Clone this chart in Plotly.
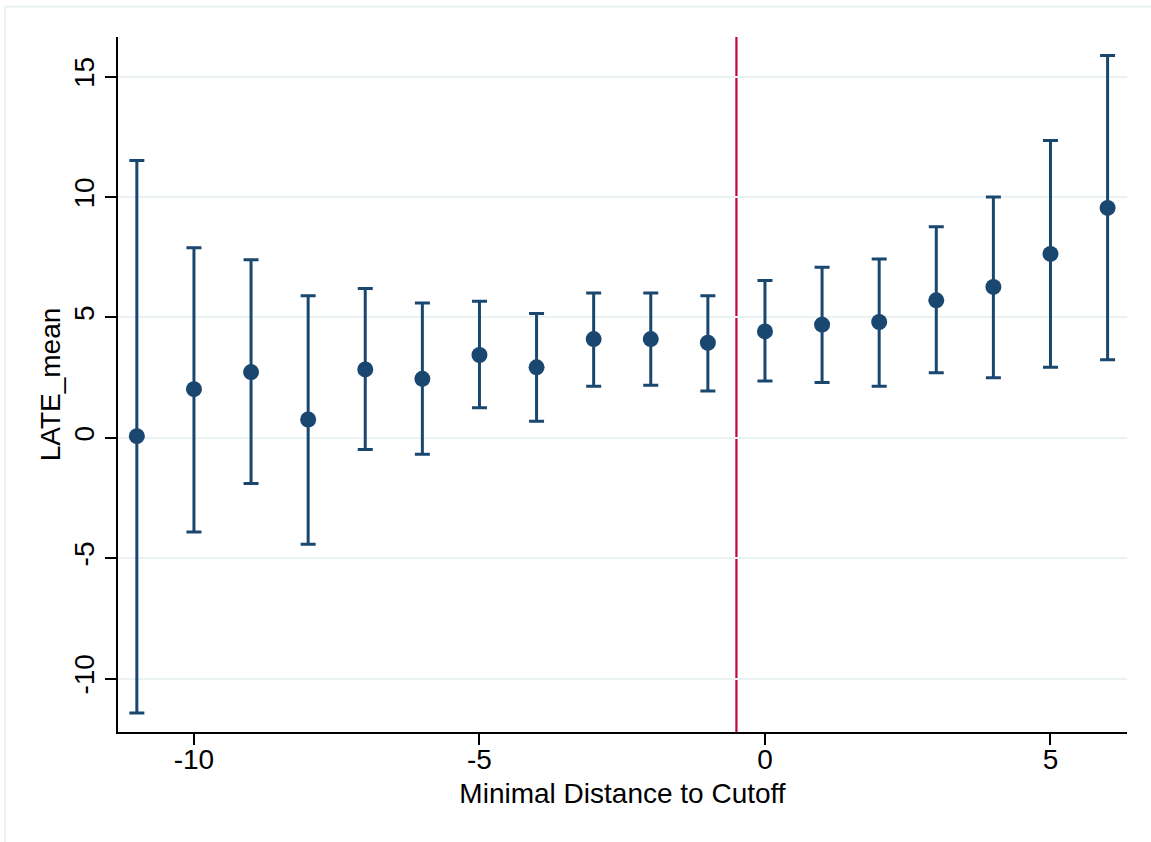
import plotly.graph_objects as go

# Data
distance = [-11, -10, -9, -8, -7, -6, -5, -4, -3, -2, -1, 0, 1, 2, 3, 4, 5, 6]
late_mean = [0.07, 2.02, 2.73, 0.76, 2.84, 2.45, 3.44, 2.93, 4.10, 4.10, 3.95,
             4.42, 4.70, 4.81, 5.71, 6.27, 7.64, 9.55]
ci_upper = [11.52, 7.90, 7.40, 5.90, 6.20, 5.60, 5.67, 5.16, 6.02, 6.02, 5.90,
            6.54, 7.09, 7.43, 8.77, 10.00, 12.35, 15.88]
ci_lower = [-11.43, -3.91, -1.90, -4.42, -0.48, -0.68, 1.25, 0.69, 2.14, 2.18, 1.95,
            2.36, 2.30, 2.14, 2.70, 2.50, 2.93, 3.24]
cutoff = -0.5
x_ticks = [-10, -5, 0, 5]
y_ticks = [-10, -5, 0, 5, 10, 15]

NAVY = "#1a476f"
GRID = "#eaf2f3"
RED = "#c10534"
FONT = "Liberation Sans, Arial, Helvetica, sans-serif"

err_plus = [u - m for u, m in zip(ci_upper, late_mean)]
err_minus = [m - l for m, l in zip(late_mean, ci_lower)]

fig = go.Figure()
fig.add_trace(go.Scatter(
    x=distance, y=late_mean, mode="markers",
    marker=dict(color=NAVY, size=16, symbol="circle", line=dict(width=0)),
    error_y=dict(type="data", symmetric=False, array=err_plus, arrayminus=err_minus,
                 color=NAVY, thickness=3, width=7.5),
    showlegend=False, cliponaxis=False,
))

fig.add_shape(type="line", xref="x", yref="paper", x0=cutoff, x1=cutoff, y0=0, y1=1,
              line=dict(color=RED, width=2.2), layer="below")

# outer frame (light border at top and left)
fig.add_shape(type="line", xref="paper", yref="paper", x0=-0.112, x1=1.1, y0=1.0436, y1=1.0436,
              line=dict(color=GRID, width=2))
fig.add_shape(type="line", xref="paper", yref="paper", x0=-0.112, x1=-0.112, y0=-0.2, y1=1.0436,
              line=dict(color=GRID, width=2))

fig.update_layout(
    width=1151, height=842,
    margin=dict(l=118, r=24, t=37, b=110, pad=0),
    paper_bgcolor="white", plot_bgcolor="white",
    font=dict(family=FONT, size=28, color="black"),
    xaxis=dict(
        range=[-11.33, 6.34], tickvals=x_ticks, ticktext=[str(v) for v in x_ticks],
        showgrid=False, zeroline=False, showline=True, linecolor="black", linewidth=2,
        ticks="outside", ticklen=11, tickwidth=2, tickcolor="black",
        ticklabelstandoff=-10,
        tickfont=dict(size=28), title=dict(text="Minimal Distance to Cutoff", font=dict(size=28), standoff=10),
    ),
    yaxis=dict(
        range=[-12.22, 16.65], tickvals=y_ticks, ticktext=[str(v) for v in y_ticks],
        showgrid=True, gridcolor=GRID, gridwidth=2, zeroline=False,
        showline=True, linecolor="black", linewidth=2,
        ticks="outside", ticklen=11, tickwidth=2, tickcolor="black",
        tickangle=-90, tickfont=dict(size=28),
        title=dict(text="LATE_mean", font=dict(size=28), standoff=0),
    ),
)

fig.write_html("out.html")
